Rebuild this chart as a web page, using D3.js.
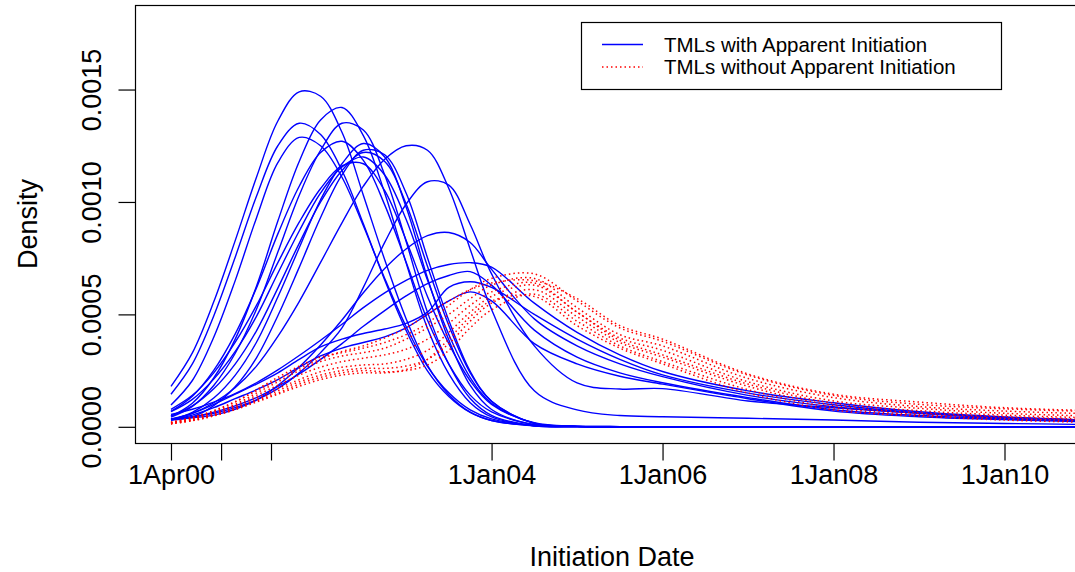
<!DOCTYPE html>
<html>
<head>
<meta charset="utf-8">
<script src="https://cdn.jsdelivr.net/npm/d3@7"></script>
<style>
  body { margin: 0; background: #fff; }
  text { font-family: "Liberation Sans", Arial, Helvetica, sans-serif; fill: #000; }
</style>
</head>
<body>
<svg id="chart" width="1075" height="572"></svg>
<script>
// shared x grid of the density curves, in decimal years
const gridYears = [2000.25, 2000.5, 2000.75, 2001.0, 2001.25, 2001.5, 2001.75, 2002.0, 2002.25,
  2002.5, 2002.75, 2003.0, 2003.25, 2003.5, 2003.75, 2004.0, 2004.5, 2005.0, 2005.5, 2006.0,
  2007.0, 2008.0, 2009.0, 2010.0, 2011.0];

// densities (x 1e-4) of TMLs with apparent initiation, one row per curve
const withInit = [
  [1.80, 3.29, 5.56, 8.27, 11.1, 13.6, 14.9, 14.7, 13.1, 10.3, 7.43, 4.81, 2.73, 1.43, 0.65, 0.28, 0.05, 0.01, 0, 0, 0, 0, 0, 0, 0],
  [1.45, 2.80, 4.93, 7.53, 10.25, 12.5, 13.5, 13.0, 11.4, 9.03, 6.53, 4.29, 2.49, 1.35, 0.64, 0.28, 0.04, 0.01, 0, null, null, null, null, null, null],
  [0.97, 2.06, 3.98, 6.49, 9.29, 11.75, 12.87, 12.5, 11.1, 8.94, 6.6, 4.46, 2.69, 1.51, 0.75, 0.35, 0.06, 0.01, 0, 0, 0, 0, 0, 0, 0],
  [0.47, 1.05, 2.17, 3.89, 6.25, 9.15, 11.8, 13.65, 14.2, 12.95, 10.4, 7.29, 4.38, 2.35, 1.07, 0.44, 0.05, 0.01, 0, 0, 0, 0, 0, 0, 0],
  [0.43, 0.91, 1.84, 3.26, 5.23, 7.77, 10.3, 12.3, 13.5, 13.2, 11.2, 8.25, 5.1, 2.78, 1.26, 0.51, 0.05, 0.01, 0, 0, 0, 0, 0, 0, 0],
  [0.69, 1.36, 2.51, 4.12, 6.18, 8.58, 10.7, 12.2, 12.7, 11.85, 9.87, 7.33, 4.75, 2.79, 1.41, 0.66, 0.1, 0.02, 0.01, 0, 0, 0, 0, 0, 0],
  [0.30, 0.64, 1.28, 2.29, 3.76, 5.77, 7.96, 10.1, 11.7, 12.6, 12.0, 9.78, 6.62, 3.86, 1.84, 0.77, 0.08, 0.01, 0, 0, 0, 0, 0, 0, 0],
  [0.30, 0.44, 0.94, 1.78, 3.07, 4.94, 7.09, 9.31, 11.2, 12.3, 12.1, 10.4, 7.52, 4.73, 2.47, 1.14, 0.15, 0.02, 0.01, 0, 0, 0, 0, 0, 0],
  [0.49, 0.93, 1.69, 2.79, 4.27, 6.17, 8.16, 10.0, 11.4, 12.2, 11.8, 9.92, 7.14, 4.51, 2.40, 1.14, 0.16, 0.02, 0.01, 0, 0, 0, 0, 0, 0],
  [0.67, 1.22, 2.12, 3.34, 4.91, 6.83, 8.71, 10.4, 11.56, 12.0, 11.2, 9.23, 6.53, 4.1, 2.19, 1.05, 0.16, 0.02, 0.01, 0, 0, 0, 0, 0, 0],
  [0.78, 1.4, 2.4, 3.75, 5.4, 7.3, 9.1, 10.6, 11.6, 11.7, 10.5, 8.3, 5.8, 3.7, 2.05, 1.0, 0.18, 0.03, 0.01, 0, 0, 0, 0, 0, 0],
  [0.33, 0.60, 1.07, 1.74, 2.70, 4.02, 5.57, 7.31, 9.07, 10.7, 11.9, 12.5, 12.3, 10.6, 7.9, 5.22, 1.6, 0.75, 0.5, 0.45, 0.38, 0.3, 0.2, 0.15, 0.1],
  [0.35, 0.45, 0.6, 0.85, 1.2, 1.7, 2.4, 3.3, 4.4, 6.2, 8.2, 9.9, 10.9, 10.75, 9.0, 6.8, 3.6, 1.95, 1.68, 1.7, 1.15, 0.85, 0.6, 0.4, 0.3],
  [0.32, 0.4, 0.52, 0.78, 1.19, 1.84, 2.66, 3.64, 4.75, 5.96, 7.04, 7.91, 8.5, 8.64, 8.2, 7.0, 4.8, 3.6, 2.8, 2.23, 1.4, 0.89, 0.6, 0.38, 0.26],
  [0.55, 0.78, 1.1, 1.48, 1.96, 2.53, 3.17, 3.85, 4.56, 5.3, 5.96, 6.51, 6.96, 7.22, 7.3, 7.1, 5.5, 4.2, 3.2, 2.46, 1.6, 1.07, 0.67, 0.44, 0.3],
  [0.35, 0.6, 1.0, 1.45, 1.9, 2.4, 3.0, 3.55, 3.9, 4.15, 4.35, 4.6, 5.1, 6.2, 6.45, 6.2, 5.0, 3.9, 3.0, 2.31, 1.5, 0.98, 0.62, 0.42, 0.28],
  [0.35, 0.43, 0.65, 0.93, 1.3, 1.8, 2.35, 3.0, 3.7, 4.47, 5.17, 5.82, 6.37, 6.73, 6.9, 6.3, 4.3, 3.1, 2.4, 1.96, 1.3, 0.76, 0.5, 0.35, 0.25],
  [0.3, 0.52, 0.85, 1.25, 1.65, 2.1, 2.65, 3.15, 3.5, 3.75, 4.0, 4.4, 5.0, 5.6, 6.0, 5.6, 3.7, 2.8, 2.25, 1.9, 1.25, 0.7, 0.45, 0.32, 0.22]
];

// densities (x 1e-4) of TMLs without apparent initiation
const withoutInit = [
  [0.2, 0.4, 0.7, 1.1, 1.65, 2.2, 2.7, 3.1, 3.3, 3.5, 3.75, 4.1, 4.6, 5.4, 6.1, 6.6, 6.8, 5.6, 4.4, 3.8, 2.3, 1.4, 1.0, 0.8, 0.68],
  [0.18, 0.38, 0.65, 1.0, 1.5, 2.0, 2.5, 2.9, 3.15, 3.3, 3.5, 3.9, 4.4, 5.0, 5.7, 6.3, 6.6, 5.3, 4.1, 3.6, 2.15, 1.3, 0.9, 0.7, 0.58],
  [0.17, 0.35, 0.6, 0.95, 1.4, 1.85, 2.3, 2.65, 2.9, 3.05, 3.2, 3.45, 3.9, 4.6, 5.4, 6.0, 6.4, 5.1, 3.95, 3.4, 2.0, 1.15, 0.82, 0.6, 0.48],
  [0.16, 0.33, 0.55, 0.88, 1.3, 1.7, 2.1, 2.45, 2.65, 2.75, 2.8, 3.0, 3.4, 4.2, 5.1, 5.8, 6.3, 5.1, 3.85, 3.2, 1.9, 1.05, 0.72, 0.52, 0.4],
  [0.15, 0.3, 0.52, 0.82, 1.2, 1.6, 2.0, 2.3, 2.5, 2.6, 2.6, 2.7, 3.0, 3.7, 4.7, 5.5, 6.1, 4.9, 3.75, 3.1, 1.8, 0.95, 0.62, 0.45, 0.33],
  [0.14, 0.28, 0.5, 0.8, 1.15, 1.5, 1.9, 2.2, 2.4, 2.5, 2.45, 2.5, 2.75, 3.4, 4.4, 5.2, 5.9, 4.7, 3.6, 2.9, 1.65, 0.85, 0.55, 0.38, 0.27],
  [0.13, 0.27, 0.48, 0.76, 1.1, 1.45, 1.8, 2.1, 2.3, 2.4, 2.4, 2.55, 3.0, 3.9, 4.9, 5.6, 5.8, 4.5, 3.5, 2.8, 1.5, 0.75, 0.48, 0.3, 0.2],
  [0.2, 0.42, 0.72, 1.12, 1.6, 2.1, 2.6, 3.0, 3.35, 3.6, 3.95, 4.4, 5.0, 5.6, 6.1, 6.4, 6.5, 5.7, 4.5, 3.9, 2.35, 1.45, 1.1, 0.85, 0.72]
];

const xTickYears = [2000.25, 2000.836, 2001.42, 2004, 2006, 2008, 2010];
const xTickLabels = ["1Apr00", "", "", "1Jan04", "1Jan06", "1Jan08", "1Jan10"];
const yTicks = [0, 5, 10, 15];
const yTickLabels = ["0.0000", "0.0005", "0.0010", "0.0015"];
const legendLabels = ["TMLs with Apparent Initiation", "TMLs without Apparent Initiation"];

const svg = d3.select("#chart");
const plot = { left: 135, right: 1107, top: 5, bottom: 443 };

const x = d3.scaleLinear().domain([1999.829, 2011.199]).range([plot.left, plot.right]);
const y = d3.scaleLinear().domain([-0.72, 18.76]).range([plot.bottom, plot.top]);

svg.append("defs").append("clipPath").attr("id", "plotclip")
  .append("rect")
  .attr("x", plot.left).attr("y", plot.top)
  .attr("width", plot.right - plot.left).attr("height", plot.bottom - plot.top);

const line = d3.line()
  .defined(d => d != null)
  .x((d, i) => x(gridYears[i]))
  .y(d => y(d))
  .curve(d3.curveCatmullRom);

const curves = svg.append("g").attr("clip-path", "url(#plotclip)");

curves.selectAll(".blue")
  .data(withInit)
  .join("path")
  .attr("class", "blue")
  .attr("d", line)
  .attr("fill", "none")
  .attr("stroke", "#0000ff")
  .attr("stroke-width", 1.4);

curves.selectAll(".red")
  .data(withoutInit)
  .join("path")
  .attr("class", "red")
  .attr("d", line)
  .attr("fill", "none")
  .attr("stroke", "#ff0000")
  .attr("stroke-width", 1.5)
  .attr("stroke-dasharray", "1.5,3");

// box around the plot region
svg.append("rect")
  .attr("x", plot.left + 0.5).attr("y", plot.top + 0.5)
  .attr("width", plot.right - plot.left).attr("height", plot.bottom - plot.top)
  .attr("fill", "none").attr("stroke", "#000").attr("stroke-width", 1.2);

// x axis
const xAxis = d3.axisBottom(x)
  .tickValues(xTickYears)
  .tickFormat((d, i) => xTickLabels[i])
  .tickSize(17)
  .tickPadding(4);

const gx = svg.append("g")
  .attr("transform", `translate(0,${plot.bottom + 0.5})`)
  .call(xAxis);
gx.select(".domain").attr("d", `M${x(xTickYears[0])},0H${x(xTickYears[xTickYears.length - 1])}`);
gx.selectAll("line").attr("stroke-width", 1.2);
gx.selectAll("text").attr("font-size", 27).attr("font-family", "Liberation Sans, Arial, sans-serif");

// y axis
const yAxis = d3.axisLeft(y)
  .tickValues(yTicks)
  .tickFormat((d, i) => yTickLabels[i])
  .tickSize(17);

const gy = svg.append("g")
  .attr("transform", `translate(${plot.left + 0.5},0)`)
  .call(yAxis);
gy.select(".domain").attr("d", `M0,${y(yTicks[0])}V${y(yTicks[yTicks.length - 1])}`);
gy.selectAll("line").attr("stroke-width", 1.2);
// labels run parallel to the axis, as in base R graphics
gy.selectAll("text")
  .attr("font-size", 27)
  .attr("font-family", "Liberation Sans, Arial, sans-serif")
  .attr("x", null).attr("dy", null)
  .attr("text-anchor", "middle")
  .attr("transform", "translate(-35,0) rotate(-90)");

// axis titles
svg.append("text")
  .attr("x", 612).attr("y", 566)
  .attr("text-anchor", "middle")
  .attr("font-size", 27)
  .text("Initiation Date");

svg.append("text")
  .attr("transform", `translate(37,${(plot.top + plot.bottom) / 2}) rotate(-90)`)
  .attr("text-anchor", "middle")
  .attr("font-size", 27)
  .text("Density");

// legend
const legend = svg.append("g");
legend.append("rect")
  .attr("x", 581.5).attr("y", 22.5).attr("width", 420).attr("height", 67)
  .attr("fill", "#fff").attr("stroke", "#000").attr("stroke-width", 1.2);

const rows = legend.selectAll(".row")
  .data(legendLabels)
  .join("g")
  .attr("transform", (d, i) => `translate(0,${44.5 + i * 22.5})`);

rows.append("line")
  .attr("x1", 602).attr("x2", 643)
  .attr("stroke", (d, i) => i === 0 ? "#0000ff" : "#ff0000")
  .attr("stroke-width", (d, i) => i === 0 ? 1.4 : 1.5)
  .attr("stroke-dasharray", (d, i) => i === 0 ? null : "1.5,3");

rows.append("text")
  .attr("x", 664).attr("y", 7.3)
  .attr("font-size", 20.5)
  .text(d => d);
</script>
</body>
</html>
